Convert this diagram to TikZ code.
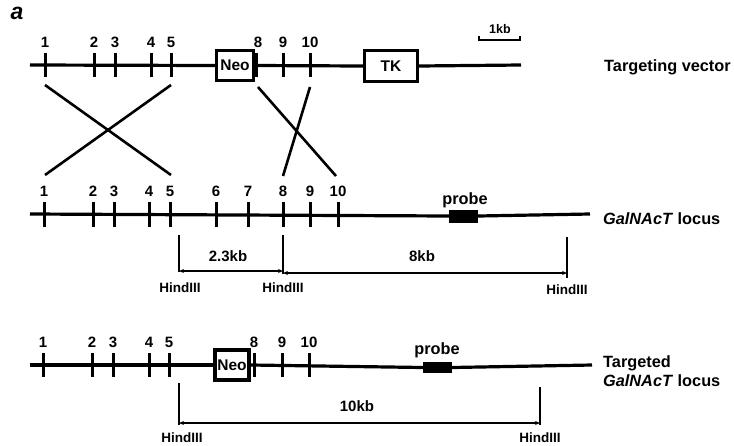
\documentclass[tikz,border=0pt]{standalone}
\usepackage{fontspec}
\setmainfont{Liberation Sans}
\usetikzlibrary{arrows.meta}
\begin{document}
\begin{tikzpicture}[x=1pt,y=-1pt,
  dna/.style={line width=3.2pt},
  exontick/.style={line width=3pt},
  crossline/.style={line width=2.6pt},
  dimline/.style={line width=1.3pt},
  dimarrow/.style={line width=1.3pt,{Stealth[length=5pt,width=4pt]}-{Stealth[length=5pt,width=4pt]}},
  num/.style={font=\bfseries\fontsize{15}{15}\selectfont,inner sep=0pt,anchor=base},
  lbl/.style={font=\bfseries\fontsize{16.3}{19}\selectfont,inner sep=0pt},
  small/.style={font=\bfseries\fontsize{13.5}{13.5}\selectfont,inner sep=0pt,anchor=base},
  genebox/.style={draw,line width=3.4pt,inner sep=0pt,font=\bfseries\fontsize{15.5}{15.5}\selectfont},
  probebox/.style={fill=black,inner sep=0pt}
]
\useasboundingbox (0,0) rectangle (734,445);

% panel label
\node[font=\bfseries\itshape\fontsize{23}{23}\selectfont,inner sep=0pt] (plabel) at (17,13) {a};

% ---------------- Targeting vector ----------------
\coordinate (vL) at (30,65);
\coordinate (vR) at (521,65);
\node[genebox,minimum width=37pt,minimum height=30pt] (neoA) at (235,65.5) {Neo};
\node[genebox,minimum width=53pt,minimum height=31pt] (tk) at (391,66) {TK};
\draw[dna] (vL) -- (neoA.west);
\draw[dna] (neoA.east) -- (tk.west);
\draw[dna] (tk.east) -- (vR);
\foreach \n/\x in {1/45,2/94,3/115,4/151,5/171,8/256,9/283,10/310}{
  \coordinate (va\n) at (\x,53);
  \coordinate (vb\n) at (\x,77);
  \draw[exontick] (va\n) -- (vb\n);
}
\foreach \n/\x in {1/45,2/94,3/115,4/151,5/171,8/258,9/283,10/310}{
  \node[num] (vn\n) at (\x,47.5) {\n};
}
% scale bar
\coordinate (sb1) at (479,35.5);
\coordinate (sb2) at (479,40);
\coordinate (sb3) at (520,40);
\coordinate (sb4) at (520,35.5);
\draw[line width=2.4pt] (sb1) -- (sb2) -- (sb3) -- (sb4);
\node[font=\bfseries\fontsize{12.5}{12.5}\selectfont,inner sep=0pt] (sbl) at (500,29) {1kb};
\node[lbl,anchor=west] (tvlab) at (604,67) {Targeting vector};

% ---------------- crossover lines ----------------
\coordinate (c1a) at (45,85);   \coordinate (c1b) at (171,175);
\coordinate (c2a) at (171,85);  \coordinate (c2b) at (45,175);
\coordinate (c3a) at (258,87);  \coordinate (c3b) at (336,176);
\coordinate (c4a) at (310,87);  \coordinate (c4b) at (283,176);
\draw[crossline] (c1a) -- (c1b);
\draw[crossline] (c2a) -- (c2b);
\draw[crossline] (c3a) -- (c3b);
\draw[crossline] (c4a) -- (c4b);

% ---------------- GalNAcT locus ----------------
\coordinate (gL) at (30,214);
\coordinate (gR) at (590,214);
\node[probebox,minimum width=29pt,minimum height=13pt] (probeA) at (463.5,216) {};
\draw[dna] (gL) -- (probeA.west);
\draw[dna] (probeA.east) -- (gR);
\node[lbl] (probeAl) at (465,200) {probe};
\foreach \n/\x in {1/44,2/93,3/114,4/149,5/170,6/216,7/248,8/283,9/310,10/338}{
  \coordinate (ga\n) at (\x,202);
  \coordinate (gb\n) at (\x,227);
  \draw[exontick] (ga\n) -- (gb\n);
  \node[num] (gn\n) at (\x,196.5) {\n};
}
\node[lbl,anchor=west] (glab) at (603,219) {\textit{GalNAcT} locus};

% restriction map
\coordinate (h1t) at (179,235); \coordinate (h1b) at (179,272);
\coordinate (h2t) at (283,235); \coordinate (h2b) at (283,274);
\coordinate (h3t) at (567,237); \coordinate (h3b) at (567,278);
\draw[dimline] (h1t) -- (h1b);
\draw[dimline] (h2t) -- (h2b);
\draw[dimline] (h3t) -- (h3b);
\coordinate (d1a) at (179,271); \coordinate (d1b) at (283,271);
\coordinate (d2a) at (283,273); \coordinate (d2b) at (567,273);
\draw[dimarrow] (d1a) -- (d1b);
\draw[dimarrow] (d2a) -- (d2b);
\node[num] (k23) at (228,261.5) {2.3kb};
\node[num] (k8) at (422,261.5) {8kb};
\node[small] (hA) at (180,292) {HindIII};
\node[small] (hB) at (283,292) {HindIII};
\node[small] (hC) at (567,294) {HindIII};

% ---------------- Targeted locus ----------------
\coordinate (tL) at (30,365);
\coordinate (tR) at (592,365);
\node[genebox,minimum width=34pt,minimum height=30pt] (neoB) at (232,365) {Neo};
\node[probebox,minimum width=29pt,minimum height=11pt] (probeB) at (437.5,367.5) {};
\draw[dna] (tL) -- (neoB.west);
\draw[dna] (neoB.east) -- (probeB.west);
\draw[dna] (probeB.east) -- (tR);
\node[lbl] (probeBl) at (437,350) {probe};
\foreach \n/\x in {1/43,2/92,3/113,4/149,5/169,8/254,9/282,10/309}{
  \coordinate (ta\n) at (\x,353);
  \coordinate (tb\n) at (\x,377);
  \draw[exontick] (ta\n) -- (tb\n);
  \node[num] (tn\n) at (\x,347.5) {\n};
}
\node[lbl,anchor=west,align=left] (tlab) at (603,371) {Targeted\\\textit{GalNAcT} locus};

\coordinate (j1t) at (179,383); \coordinate (j1b) at (179,425);
\coordinate (j2t) at (540,387); \coordinate (j2b) at (540,425);
\draw[dimline] (j1t) -- (j1b);
\draw[dimline] (j2t) -- (j2b);
\coordinate (e1a) at (179,423); \coordinate (e1b) at (540,423);
\draw[dimarrow] (e1a) -- (e1b);
\node[num] (k10) at (357,411.5) {10kb};
\node[small] (hD) at (182,442) {HindIII};
\node[small] (hE) at (540,442) {HindIII};
\end{tikzpicture}
\end{document}
